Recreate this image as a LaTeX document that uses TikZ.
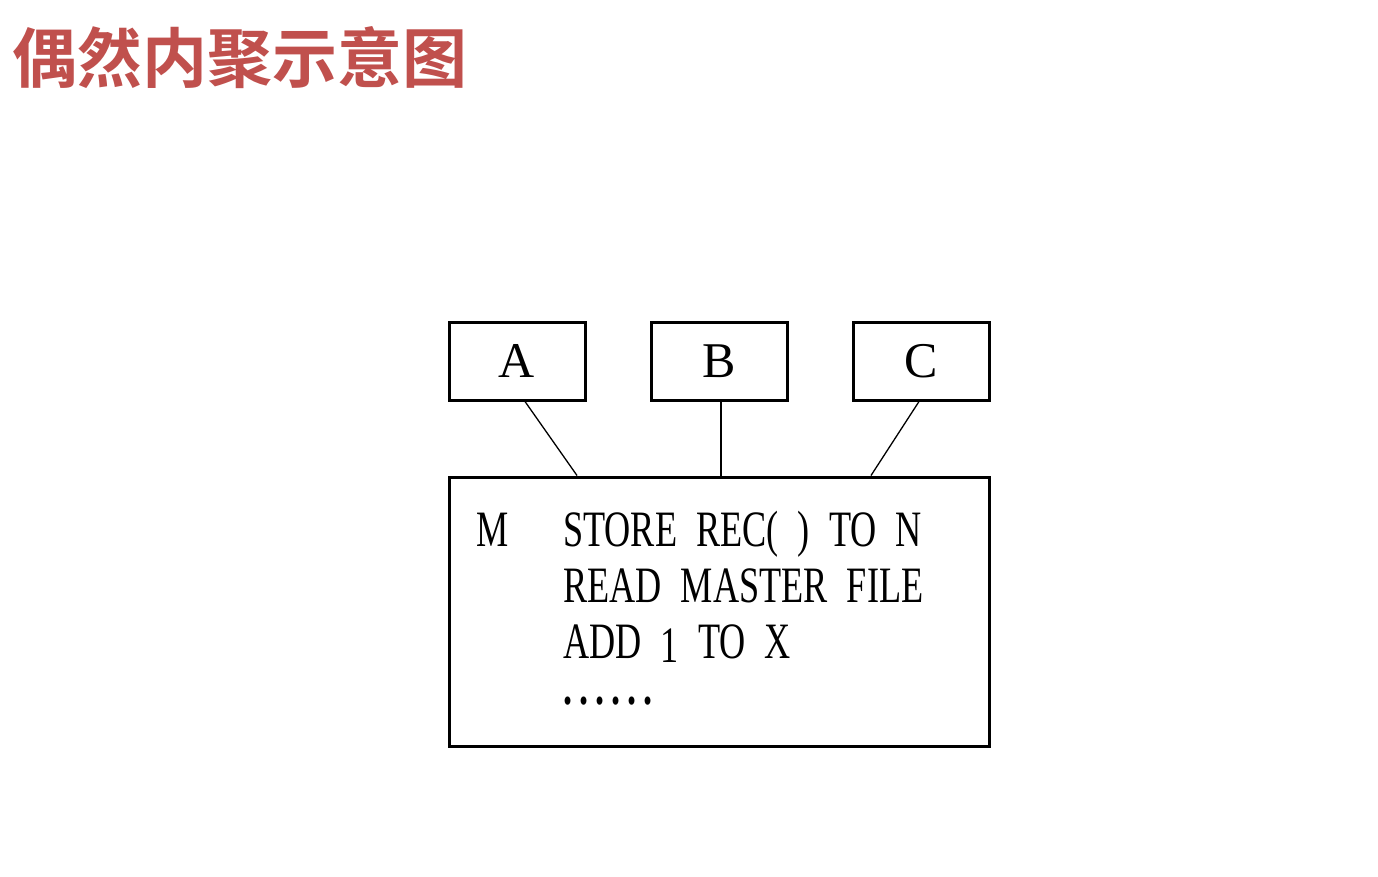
\documentclass[tikz,border=0pt]{standalone}
\usepackage{fontspec}
\setmainfont{Liberation Serif}
\newfontfamily\cjkbold[BoldFont={Noto Sans CJK SC Bold}]{Noto Sans CJK SC}
\definecolor{titlered}{HTML}{C0504D}
\newcommand\codefont{\fontsize{51}{51}\selectfont\spaceskip=27pt plus 0pt minus 0pt\relax}
\begin{document}
\begin{tikzpicture}[x=1pt,y=-1pt,
  box/.style={draw,line width=3pt,minimum width=136pt,minimum height=78pt,inner sep=0pt,font=\fontsize{50}{50}\selectfont},
  link/.style={line width=1.3pt},
  code/.style={anchor=base west,inner sep=0pt,xscale=0.71}]
\useasboundingbox (0,0) rectangle (1378,876);
\node[anchor=west,inner sep=0pt,text=titlered,font=\cjkbold\bfseries\fontsize{65}{65}\selectfont] (title) at (12,58) {偶然内聚示意图};
\node[box] (A) at (517,361) {A};
\node[box] (B) at (719,361) {B};
\node[box] (C) at (921,361) {C};
\node[draw,line width=3pt,minimum width=540pt,minimum height=269pt,inner sep=0pt] (M) at (719,611.5) {};
\draw[link] ([xshift=8pt]A.south) -- ([xshift=-142pt]M.north);
\draw[link] ([xshift=2pt]B.south) -- ([xshift=2pt]M.north);
\draw[link] ([xshift=-2pt]C.south) -- ([xshift=152pt]M.north);
\node[code] (m) at (476,546) {\codefont M};
\node[code] (l1) at (563,546) {\codefont STORE REC( ) TO N};
\node[code] (l2) at (563,602) {\codefont READ MASTER FILE};
\node[code] (l3) at (563,658) {\codefont ADD \raisebox{-4pt}{1} TO X};
\node[code] (l4) at (563,704) {\codefont\textbf{.\hskip10pt.\hskip10pt.\hskip10pt.\hskip10pt.\hskip10pt.}};
\end{tikzpicture}
\end{document}
